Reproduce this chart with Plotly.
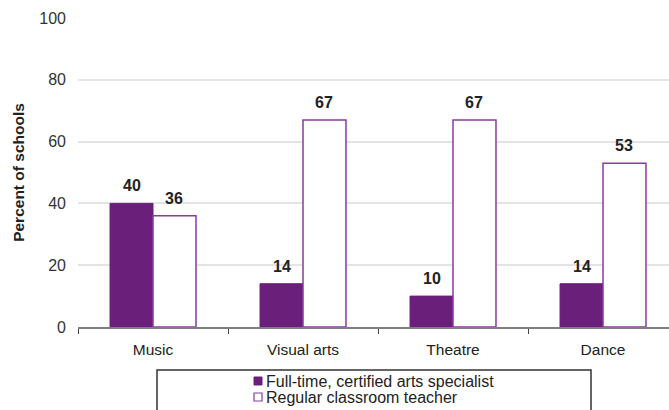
import plotly.graph_objects as go

categories = ["Music", "Visual arts", "Theatre", "Dance"]
specialist = [40, 14, 10, 14]
classroom = [36, 67, 67, 53]
series_names = ["Full-time, certified arts specialist", "Regular classroom teacher"]
y_ticks = [0, 20, 40, 60, 80, 100]

W, H = 669, 410
L, R, T, B = 78, 0, 18, 83
PW, PH = W - L - R, H - T - B
CAT_PX = 150.0
BARGAP = 0.427
BAR_PX = (1 - BARGAP) * CAT_PX / 2

def px_x(x):
    return (x - L) / PW

def px_y(y):
    return (H - B - y) / PH

DARK = "#6A1F7A"
LINE = "#8A3AA0"
FONT = "Liberation Sans, Arial"

fig = go.Figure()
fig.add_trace(go.Bar(
    x=categories, y=specialist, name=series_names[0],
    marker=dict(color=DARK, line=dict(color=DARK, width=1)),
    showlegend=False,
))
fig.add_trace(go.Bar(
    x=categories, y=classroom, name=series_names[1],
    marker=dict(color="white", line=dict(color=LINE, width=1.5)),
    showlegend=False,
))

annotations = []
for vals, sh in ((specialist, -BAR_PX / 2), (classroom, BAR_PX / 2)):
    for c, v in zip(categories, vals):
        annotations.append(dict(
            xref="x", yref="y", x=c, y=v, xshift=sh, yshift=7,
            text=f"<b>{v}</b>", showarrow=False, xanchor="center", yanchor="bottom",
            font=dict(family=FONT, size=16, color="#222")))

# legend box and entries drawn as decorations
shapes = [
    dict(type="rect", xref="paper", yref="paper",
         x0=px_x(157), x1=px_x(591), y0=px_y(413), y1=px_y(370),
         line=dict(color="#333", width=1.5), fillcolor="rgba(0,0,0,0)"),
    dict(type="rect", xref="paper", yref="paper",
         x0=px_x(254), x1=px_x(262), y0=px_y(385), y1=px_y(377),
         line=dict(color=DARK, width=1), fillcolor=DARK),
    dict(type="rect", xref="paper", yref="paper",
         x0=px_x(254), x1=px_x(262), y0=px_y(401), y1=px_y(393),
         line=dict(color=LINE, width=1.2), fillcolor="white"),
]
annotations += [
    dict(xref="paper", yref="paper", x=px_x(264), y=px_y(381), text=series_names[0],
         showarrow=False, xanchor="left", yanchor="middle",
         font=dict(family=FONT, size=16, color="#222")),
    dict(xref="paper", yref="paper", x=px_x(264), y=px_y(397), text=series_names[1],
         showarrow=False, xanchor="left", yanchor="middle",
         font=dict(family=FONT, size=16, color="#222")),
]

fig.update_layout(
    width=W, height=H,
    margin=dict(l=L, r=R, t=T, b=B, pad=0),
    paper_bgcolor="white", plot_bgcolor="white",
    barmode="group", bargap=BARGAP, bargroupgap=0,
    shapes=shapes, annotations=annotations,
    font=dict(family=FONT, size=15, color="#222"),
    showlegend=False,
)
fig.update_xaxes(
    range=[-0.5, -0.5 + PW / CAT_PX],
    showline=True, linecolor="#7f7f7f", linewidth=2,
    ticks="outside", tickson="boundaries", ticklen=5, tickcolor="#444", tickwidth=1,
    showgrid=False, ticklabelstandoff=7,
    tickfont=dict(size=15.5, color="#222"),
)
fig.update_yaxes(
    range=[0, 100], tickvals=y_ticks,
    showgrid=True, gridcolor="#e4e4e4", gridwidth=1.5,
    zeroline=False, showline=False, ticks="",
    ticklabelstandoff=11,
    tickfont=dict(size=16, color="#333"),
    title=dict(text="<b>Percent of schools</b>", standoff=10,
               font=dict(size=15.5, color="#222")),
)

fig.write_html("out.html")
